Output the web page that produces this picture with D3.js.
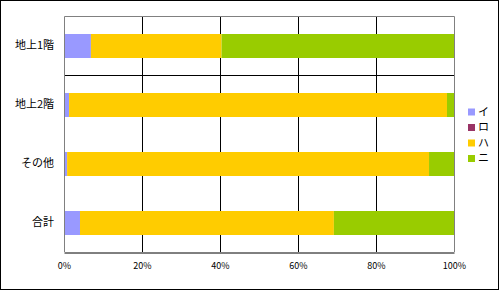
<!DOCTYPE html>
<html><head><meta charset="utf-8">
<script src="https://cdn.jsdelivr.net/npm/d3@7"></script>
<style>body{margin:0;background:#fff}svg{display:block}</style>
</head><body>
<script>
const categories = ["地上1階","地上2階","その他","合計"];
const seriesNames = ["イ","ロ","ハ","ニ"];
const seriesI  = [6.9, 1.3, 0.8, 4.1];
const seriesRo = [0, 0, 0, 0];
const seriesHa = [33.5, 96.9, 92.8, 65.1];
const seriesNi = [59.6, 1.8, 6.4, 30.8];
const xTicks = [0,20,40,60,80,100];
const colors = ["#9999FF","#993366","#FFCC00","#99CC00"];

(function(){
const W=500,H=291;
const svg=d3.select("body").append("svg").attr("width",W).attr("height",H);
const font="'Noto Sans CJK JP', sans-serif";
svg.append("rect").attr("x",0.5).attr("y",0.5).attr("width",W-2).attr("height",H-2)
  .attr("fill","#fff").attr("stroke","#000");

const pL=64,pR=454,pT=16,pB=252;
const x=d3.scaleLinear().domain([0,100]).range([pL,pR]);
const y=d3.scaleBand().domain(categories).range([pT,pB]).paddingInner(0.6).paddingOuter(0.3);

// gridlines
svg.append("g").selectAll("line").data(xTicks.slice(1,-1)).join("line")
  .attr("x1",d=>Math.round(x(d))+0.5).attr("x2",d=>Math.round(x(d))+0.5)
  .attr("y1",pT).attr("y2",pB).attr("stroke","#000");
// horizontal separator
const sep=pT+(pB-pT)/4;
svg.append("line").attr("x1",pL).attr("x2",pR).attr("y1",Math.round(sep)+0.5).attr("y2",Math.round(sep)+0.5).attr("stroke","#000");

const series=[seriesI,seriesRo,seriesHa,seriesNi];
const rows=categories.map((c,i)=>{let acc=0;return series.map((s,k)=>{const a=acc;acc+=s[i];return {c,k,a,b:acc};});});
svg.append("g").selectAll("g").data(rows).join("g").selectAll("rect").data(d=>d).join("rect")
  .attr("x",d=>x(d.a)).attr("width",d=>x(d.b)-x(d.a))
  .attr("y",d=>Math.round(y(d.c))).attr("height",Math.round(y.bandwidth()))
  .attr("fill",d=>colors[d.k]);

// plot frame
svg.append("path").attr("d",`M${pL+0.5},${pB}V${pT+0.5}H${pR+0.5}V${pB}`)
  .attr("fill","none").attr("stroke","#808080");

// x axis
const ax=svg.append("g").attr("transform",`translate(0,${pB+0.5})`)
  .call(d3.axisBottom(x).tickValues(xTicks).tickFormat(d=>d+"%").tickSize(0).tickPadding(10));
ax.select(".domain").attr("stroke","#000");
ax.selectAll("text").attr("font-family",font).attr("font-size",9).attr("fill","#000");
ax.selectAll(".tick line").remove();

// y labels
svg.append("g").selectAll("text").data(categories).join("text")
  .attr("x",54).attr("y",d=>y(d)+y.bandwidth()/2).attr("dy","0.35em")
  .attr("text-anchor","end").attr("font-family",font).attr("font-size",11).text(d=>d);

// legend
const lg=svg.append("g").selectAll("g").data(seriesNames).join("g")
  .attr("transform",(d,i)=>`translate(468,${112+i*15.5})`);
lg.append("rect").attr("x",0).attr("y",-3.5).attr("width",7).attr("height",7).attr("fill",(d,i)=>colors[i]);
lg.append("text").attr("x",10).attr("y",0).attr("dy","0.35em").attr("font-family",font).attr("font-size",11).text(d=>d);
})();
</script>
</body></html>
